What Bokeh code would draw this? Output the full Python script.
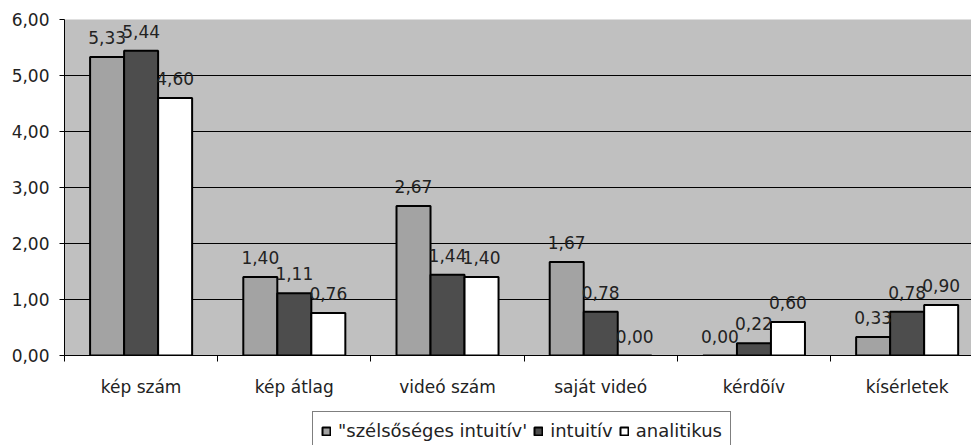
import numpy as np
from bokeh.plotting import figure
from bokeh.layouts import column
from bokeh.core.properties import value
from bokeh.models import (ColumnDataSource, Range1d, LinearAxis, FixedTicker, Grid,
                          CustomJSTickFormatter, LabelSet, Legend, LegendItem)
from bokeh.embed import file_html
from bokeh.resources import INLINE

categories = ["kép szám", "kép átlag", "videó szám", "saját videó", "kérdõív", "kísérletek"]
series_names = ['"szélsőséges intuitív\'', "intuitív", "analitikus"]
szelsoseges = [5.33, 1.40, 2.67, 1.67, 0.00, 0.33]
intuitiv = [5.44, 1.11, 1.44, 0.78, 0.22, 0.78]
analitikus = [4.60, 0.76, 1.40, 0.00, 0.60, 0.90]
y_ticks = [0, 1, 2, 3, 4, 5, 6]

series = [szelsoseges, intuitiv, analitikus]
colors = ["#A3A3A3", "#4D4D4D", "#FFFFFF"]
FONT = "DejaVu Sans"
FS = "17px"
BAR_W = 0.222

p = figure(width=971, height=400, output_backend="svg", toolbar_location=None,
           x_axis_type=None, y_axis_type=None,
           x_range=Range1d(0, 5.92), y_range=Range1d(0, 6),
           background_fill_color="#C0C0C0", border_fill_color="white",
           min_border_left=64, min_border_right=0, min_border_top=19, min_border_bottom=45)
p.outline_line_color = None

# y axis
yaxis = LinearAxis(ticker=FixedTicker(ticks=y_ticks),
                   formatter=CustomJSTickFormatter(code="return tick.toFixed(2).replace('.', ',')"))
yaxis.major_label_text_font = FONT
yaxis.major_label_text_font_size = FS
yaxis.major_label_text_color = "#222222"
yaxis.major_tick_out = 5
yaxis.major_tick_in = 0
yaxis.major_tick_line_color = "black"
yaxis.axis_line_color = "black"
yaxis.major_label_standoff = 10
p.add_layout(yaxis, "left")

p.add_layout(Grid(dimension=1, ticker=FixedTicker(ticks=y_ticks[1:-1]),
                  grid_line_color="black", grid_line_width=1))
p.add_layout(Grid(dimension=1, ticker=FixedTicker(ticks=y_ticks[-1:]),
                  grid_line_color="#808080", grid_line_width=3))

# x axis: labels at category centres, tick marks at category boundaries
n = len(categories)
centers = [i + 0.5 for i in range(n)]
xaxis = LinearAxis(ticker=FixedTicker(ticks=centers, minor_ticks=list(range(n + 1))),
                   major_label_overrides={c: cat for c, cat in zip(centers, categories)})
xaxis.major_label_text_font = FONT
xaxis.major_label_text_font_size = FS
xaxis.major_label_text_color = "#222222"
xaxis.major_tick_out = 0
xaxis.major_tick_in = 0
xaxis.major_tick_line_color = None
xaxis.minor_tick_out = 6
xaxis.minor_tick_in = 0
xaxis.minor_tick_line_color = "black"
xaxis.axis_line_color = "black"
xaxis.major_label_standoff = 15
p.add_layout(xaxis, "below")

# separate strip holding the legend; its renderers are hidden,
# so only the legend entries show there
lp = figure(width=971, height=45, output_backend="svg", toolbar_location=None,
            x_axis_type=None, y_axis_type=None,
            x_range=Range1d(-20, -14.08), y_range=Range1d(0, 6),
            background_fill_color="white", border_fill_color="white",
            min_border_left=0, min_border_right=0, min_border_top=0, min_border_bottom=0)
lp.outline_line_color = None

items = []
for j, (vals, name, col) in enumerate(zip(series, series_names, colors)):
    xs = [c + (j - 1) * BAR_W for c in centers]
    src = ColumnDataSource(dict(x=xs, top=vals,
                                lab=[f"{v:.2f}".replace(".", ",") for v in vals]))
    p.vbar(x="x", top="top", bottom=0, width=BAR_W, source=src,
           fill_color=col, line_color="black", line_width=2)
    r = lp.vbar(x="x", top="top", bottom=0, width=BAR_W, source=src,
                fill_color=col, line_color="black", line_width=2)
    r.visible = False
    items.append(LegendItem(label=name, renderers=[r]))
    p.add_layout(LabelSet(x="x", y="top", text="lab", source=src, y_offset=13,
                          text_align="center", text_baseline="alphabetic",
                          text_font=value(FONT), text_font_size=value(FS),
                          text_color="#222222"))

legend = Legend(items=items, orientation="horizontal", location=(248, -5),
                glyph_width=10, glyph_height=10, label_standoff=7, spacing=6,
                padding=8, margin=0, label_height=16,
                label_text_font=FONT, label_text_font_size="18px", label_text_color="#222222",
                border_line_color="black", border_line_width=1,
                background_fill_color="white", background_fill_alpha=1,
                inactive_fill_alpha=0)
lp.add_layout(legend)

layout = column(p, lp, spacing=0)
open("out.html", "w").write(file_html(layout, INLINE))
